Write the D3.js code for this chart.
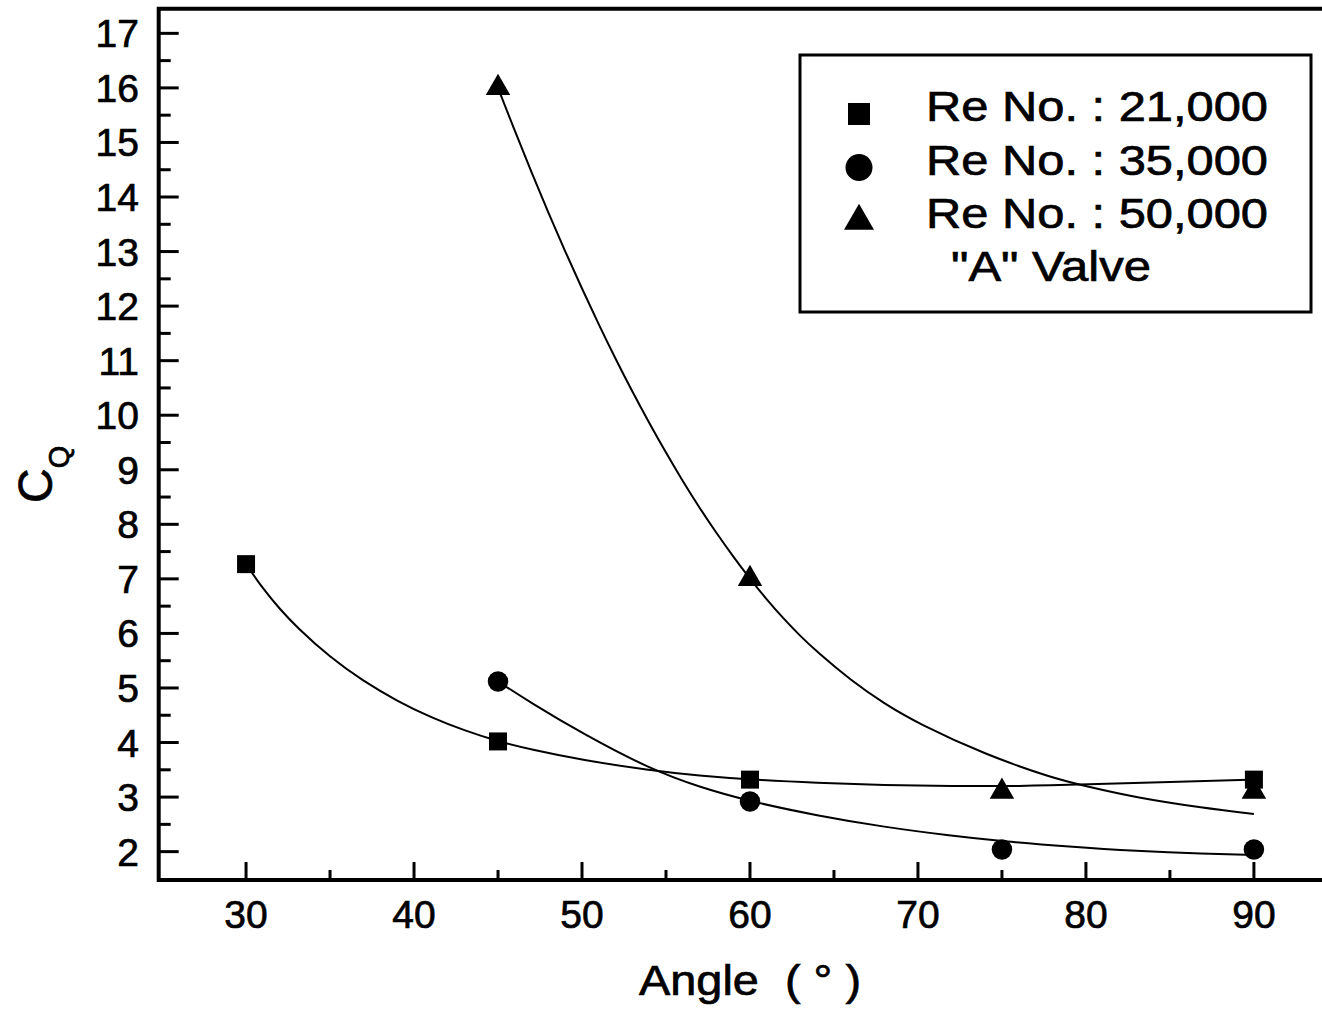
<!DOCTYPE html>
<meta charset="utf-8">
<head>
	<title>CQ vs Angle</title>
	<style>
		body { margin: 0; background: #fff; }
		svg { display: block; font-family: "Liberation Sans", Arial, sans-serif; }
		svg text { fill: #000; stroke: #000; stroke-width: 0.7px; }
		.axisLine { stroke: #000; stroke-width: 4; fill: none; }
		.tick { stroke: #000; stroke-width: 3; }
		.tickLabel { font-size: 39px; }
		.fit { fill: none; stroke: #000; stroke-width: 2; }
		.legendText { font-size: 43px; }
	</style>
	<script src="https://cdn.jsdelivr.net/npm/d3@7"></script>
</head>
<body>
	<div id="graph"></div>
	<script>
		// measured points, angle (deg) vs CQ
		const angles21 = [30, 45, 60, 90];
		const cq21 = [7.27, 4.02, 3.32, 3.32];
		const angles35 = [45, 60, 75, 90];
		const cq35 = [5.12, 2.92, 2.04, 2.04];
		const angles50 = [45, 60, 75, 90];
		const cq50 = [16.0, 7.0, 3.1, 3.1];

		// fitted curves as [angle, CQ]
		const fit21 = [[30,7.27],[31,6.82],[32,6.45],[33,6.12],[35,5.56],[37,5.12],[39,4.76],[41,4.46],[43,4.22],[45,4.02],[47,3.87],[50,3.68],[54,3.49],[57,3.39],[60,3.32],[64,3.26],[68,3.22],[72,3.20],[76,3.20],[80,3.23],[85,3.28],[90,3.32]];
		const fit35 = [[45,5.12],[47,4.72],[50,4.17],[54,3.52],[57,3.18],[60,2.92],[64,2.66],[68,2.45],[72,2.29],[75,2.19],[79,2.09],[83,2.01],[87,1.96],[90,1.94]];
		const fit50 = [[45,16.0],[46,15.21],[47,14.45],[48,13.71],[49,13.0],[50,12.32],[51,11.66],[52,11.03],[53,10.43],[54,9.86],[55,9.31],[56,8.79],[57,8.30],[58,7.84],[59,7.41],[60,7.0],[61,6.62],[62,6.27],[63,5.95],[64,5.66],[66,5.14],[68,4.71],[70,4.35],[74,3.78],[78,3.35],[80,3.20],[83,2.99],[87,2.80],[90,2.69]];

		const xMajor = [30, 40, 50, 60, 70, 80, 90];
		const xMinor = [35, 45, 55, 65, 75, 85];
		const yMajor = [2, 3, 4, 5, 6, 7, 8, 9, 10, 11, 12, 13, 14, 15, 16, 17];
		const yMinor = [2.5, 3.5, 4.5, 5.5, 6.5, 7.5, 8.5, 9.5, 10.5, 11.5, 12.5, 13.5, 14.5, 15.5, 16.5];

		const legendLabels = ['Re No. : 21,000', 'Re No. : 35,000', 'Re No. : 50,000'];
		const legendNote = '"A" Valve';

		const W = 1322, H = 1018;
		const x = d3.scaleLinear().domain([24.8, 95]).range([158.7, 1337.9]);
		const y = d3.scaleLinear().domain([1.48, 17.45]).range([880, 8.8]);

		const svg = d3.select('#graph').append('svg').attr('width', W).attr('height', H);

		// ticks pointing inward
		const g = svg.append('g');
		g.selectAll('.xMaj').data(xMajor).join('line').attr('class', 'tick')
			.attr('x1', d => x(d)).attr('x2', d => x(d)).attr('y1', 880).attr('y2', 862);
		g.selectAll('.xMin').data(xMinor).join('line').attr('class', 'tick')
			.attr('x1', d => x(d)).attr('x2', d => x(d)).attr('y1', 880).attr('y2', 870);
		g.selectAll('.yMaj').data(yMajor).join('line').attr('class', 'tick')
			.attr('x1', x.range()[0]).attr('x2', x.range()[0] + 20).attr('y1', d => y(d)).attr('y2', d => y(d));
		g.selectAll('.yMin').data(yMinor).join('line').attr('class', 'tick')
			.attr('x1', x.range()[0]).attr('x2', x.range()[0] + 12).attr('y1', d => y(d)).attr('y2', d => y(d));

		// frame: left, bottom, top
		const x0 = x.range()[0], x1 = x.range()[1], y0 = y.range()[0], y1 = y.range()[1];
		svg.append('path').attr('class', 'axisLine')
			.attr('d', `M${x1},${y0}H${x0}V${y1}H${x1}`);

		// tick labels
		svg.selectAll('.xl').data(xMajor).join('text').attr('class', 'tickLabel')
			.attr('x', d => x(d)).attr('y', 928).attr('text-anchor', 'middle').text(d => d);
		svg.selectAll('.yl').data(yMajor).join('text').attr('class', 'tickLabel')
			.attr('x', 139).attr('y', d => y(d)).attr('dy', '0.36em').attr('text-anchor', 'end').text(d => d);

		// axis titles
		svg.append('text').attr('x', 639).attr('y', 995)
			.attr('textLength', 222).attr('lengthAdjust', 'spacingAndGlyphs')
			.style('font-size', '43px').style('white-space', 'pre')
			.text('Angle  ( \u00b0 )');
		const yt = svg.append('text').attr('transform', 'translate(52,503) rotate(-90)');
		yt.append('tspan').style('font-size', '48px').text('C');
		yt.append('tspan').style('font-size', '29px').attr('dy', 17).text('Q');

		// fit curves
		const line = d3.line().x(d => x(d[0])).y(d => y(d[1])).curve(d3.curveBasis);
		[fit21, fit35, fit50].forEach(f => svg.append('path').attr('class', 'fit').attr('d', line(f)));

		// markers
		const series = [
			{ a: angles21, v: cq21, sym: d3.symbolSquare, size: 324, lsize: 484 },
			{ a: angles35, v: cq35, sym: d3.symbolCircle, size: 330, lsize: 573 },
			{ a: angles50, v: cq50, sym: d3.symbolTriangle, size: 260, lsize: 390 }
		];
		series.forEach(s => {
			svg.append('g').selectAll('path').data(s.a.map((a, i) => [a, s.v[i]])).join('path')
				.attr('transform', d => `translate(${x(d[0])},${y(d[1])})`)
				.attr('d', d3.symbol().type(s.sym).size(s.size)).attr('fill', '#000');
		});

		// legend
		const lg = svg.append('g');
		lg.append('rect').attr('x', 800).attr('y', 55).attr('width', 511).attr('height', 257)
			.attr('fill', '#fff').attr('stroke', '#000').attr('stroke-width', 3);
		series.forEach((s, i) => {
			lg.append('path').attr('transform', `translate(859,${114 + i * 53.5})`)
				.attr('d', d3.symbol().type(s.sym).size(s.lsize)).attr('fill', '#000');
			lg.append('text').attr('class', 'legendText').attr('x', 926).attr('y', 121 + i * 53.5)
				.attr('textLength', 342).attr('lengthAdjust', 'spacingAndGlyphs').text(legendLabels[i]);
		});
		lg.append('text').attr('class', 'legendText').attr('x', 951).attr('y', 281)
			.attr('textLength', 200).attr('lengthAdjust', 'spacingAndGlyphs').text(legendNote);
	</script>
</body>
